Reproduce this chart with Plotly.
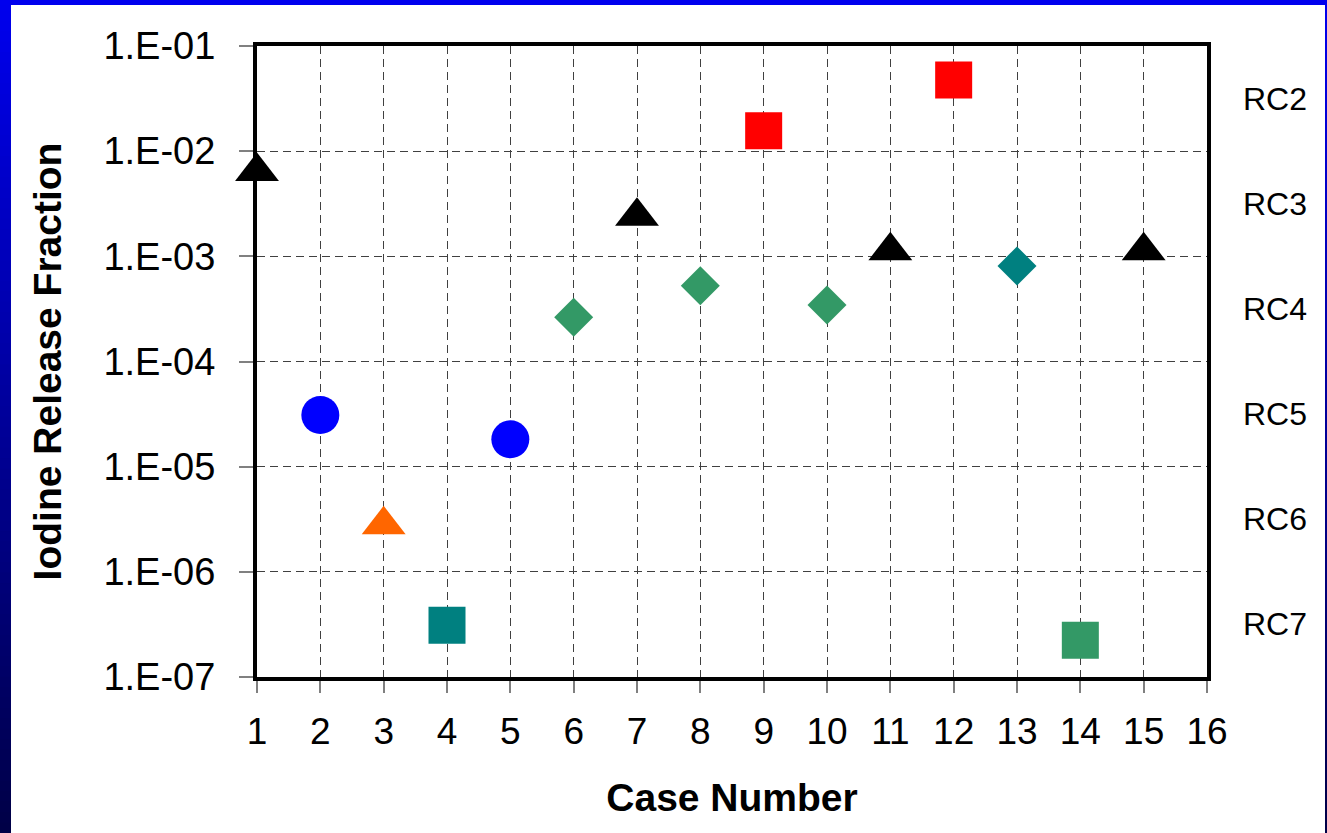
import plotly.graph_objects as go

# ---- data ----
case_numbers = [1, 2, 3, 4, 5, 6, 7, 8, 9, 10, 11, 12, 13, 14, 15]
release_fraction = [6.4e-3, 3.1e-5, 2.8e-6, 3.1e-7, 1.82e-5, 2.63e-4, 2.4e-3, 5.26e-4,
                    1.56e-2, 3.45e-4, 1.13e-3, 4.75e-2, 8.1e-4, 2.24e-7, 1.13e-3]
marker_symbols = ["triangle-up", "circle", "triangle-up", "square", "circle", "diamond",
                  "triangle-up", "diamond", "square", "diamond", "triangle-up", "square",
                  "diamond", "square", "triangle-up"]
marker_colors = ["#000000", "#0000FF", "#FF6600", "#008080", "#0000FF", "#339966",
                 "#000000", "#339966", "#FF0000", "#339966", "#000000", "#FF0000",
                 "#008080", "#339966", "#000000"]

y_tick_vals = [1e-7, 1e-6, 1e-5, 1e-4, 1e-3, 1e-2, 1e-1]
y_tick_text = ["1.E-07", "1.E-06", "1.E-05", "1.E-04", "1.E-03", "1.E-02", "1.E-01"]
x_tick_vals = list(range(1, 17))

rc_labels = ["RC2", "RC3", "RC4", "RC5", "RC6", "RC7"]
rc_log_positions = [-1.5, -2.5, -3.5, -4.5, -5.5, -6.5]

# ---- layout geometry (pixels) ----
W, H = 1327, 833
L, R, T, B = 257, 120, 46, 156
pw, ph = W - L - R, H - T - B

def px_x(p):
    return (p - L) / pw

def px_y(p):
    return (H - B - p) / ph

sizes = []
for s in marker_symbols:
    if s == "triangle-up":
        sizes.append(38)
    elif s == "diamond":
        sizes.append(30)
    elif s == "square":
        sizes.append(37)
    else:
        sizes.append(38)

FONT = "Liberation Sans, Arial"

fig = go.Figure()
fig.add_trace(go.Scatter(
    x=case_numbers, y=release_fraction, mode="markers",
    marker=dict(symbol=marker_symbols, color=marker_colors, size=sizes,
                opacity=1, line=dict(width=0)),
    opacity=1, showlegend=False, cliponaxis=False, hoverinfo="skip",
))

grid_dash = "8px,5px"
fig.update_xaxes(
    type="linear", range=[1, 16], tickvals=x_tick_vals, ticktext=[str(v) for v in x_tick_vals],
    showgrid=True, gridcolor="#404040", gridwidth=1, griddash=grid_dash,
    showline=True, mirror=True, linecolor="black", linewidth=4,
    ticks="outside", ticklen=12, tickcolor="#808080", tickwidth=1.5,
    tickfont=dict(family=FONT, size=37, color="black"),
    ticklabelstandoff=7,
    zeroline=False,
    title=dict(text="<b>Case Number</b>", standoff=33,
               font=dict(family=FONT, size=39, color="black")),
)
fig.update_yaxes(
    type="log", range=[-7, -1], tickvals=y_tick_vals, ticktext=y_tick_text,
    showgrid=True, gridcolor="#404040", gridwidth=1, griddash=grid_dash,
    showline=True, mirror=True, linecolor="black", linewidth=4,
    ticks="outside", ticklen=14, tickcolor="#808080", tickwidth=1.5,
    tickfont=dict(family=FONT, size=38, color="black"),
    ticklabelstandoff=16,
    zeroline=False,
    title=dict(text="<b>Iodine Release Fraction</b>", standoff=31,
               font=dict(family=FONT, size=39, color="black")),
)

annotations = []
for lab, lp in zip(rc_labels, rc_log_positions):
    annotations.append(dict(text=lab, xref="paper", yref="y", x=px_x(1275), y=lp,
                            showarrow=False, xanchor="center", yanchor="middle",
                            font=dict(family=FONT, size=32, color="black")))

# ---- blue slide frame ----
shapes = []
n = 80
top_c = (0, 0, 238)
bot_c = (0, 0, 70)
for i in range(n):
    y0p = H * i / n
    y1p = H * (i + 1) / n + 1.5
    f = (i + 0.5) / n
    c = tuple(int(round(top_c[k] + (bot_c[k] - top_c[k]) * f)) for k in range(3))
    col = "rgb(%d,%d,%d)" % c
    for (xa, xb) in [(-2, 11), (1325, 1330)]:
        shapes.append(dict(type="rect", xref="paper", yref="paper",
                           x0=px_x(xa), x1=px_x(xb), y0=px_y(y1p), y1=px_y(y0p),
                           fillcolor=col, line=dict(width=0), layer="above"))
shapes.append(dict(type="rect", xref="paper", yref="paper",
                   x0=px_x(-2), x1=px_x(W + 2), y0=px_y(5), y1=px_y(-2),
                   fillcolor="rgb(0,0,238)", line=dict(width=0), layer="above"))

fig.update_layout(
    width=W, height=H,
    margin=dict(l=L, r=R, t=T, b=B, autoexpand=False),
    paper_bgcolor="white", plot_bgcolor="white",
    annotations=annotations, shapes=shapes,
    font=dict(family=FONT, color="black"),
    hovermode=False,
)

fig.write_html("out.html", config={"displayModeBar": False},
               post_script="document.body.style.margin='0';document.body.style.overflow='hidden';")
